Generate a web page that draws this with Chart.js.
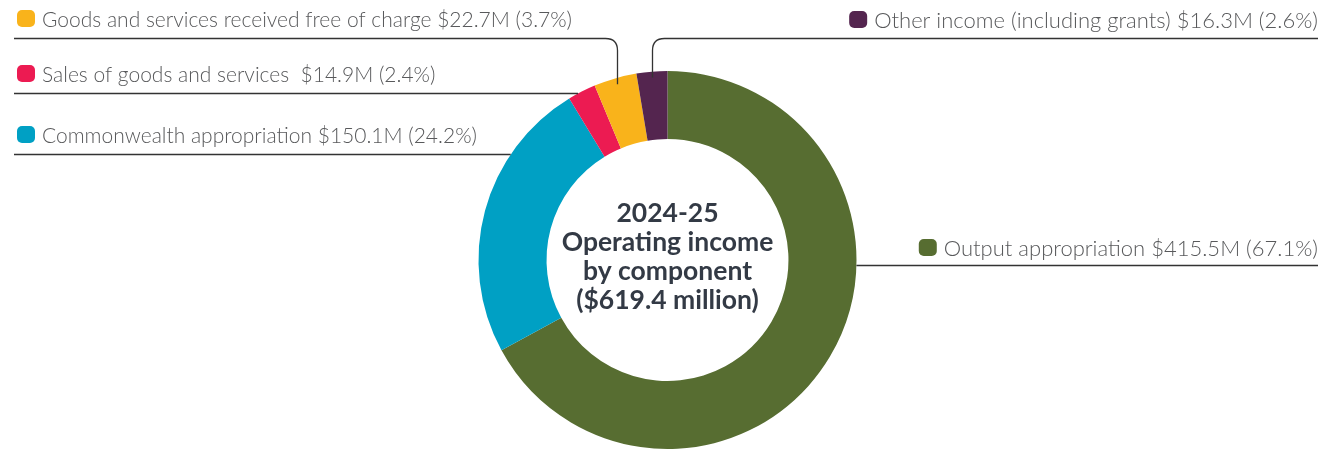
<!DOCTYPE html>
<html>
<head>
<meta charset="utf-8">
<script src="https://cdn.jsdelivr.net/npm/chart.js@4.4.1/dist/chart.umd.min.js"></script>
<style>
  html, body { margin: 0; padding: 0; background: #fff; }
  #wrap { width: 1322px; height: 450px; position: relative; }
</style>
</head>
<body>
<div id="wrap"><canvas id="c" width="1322" height="450"></canvas></div>
<script>
// Operating income by component, 2024-25 ($ million)
const categories = [
  'Output appropriation',
  'Commonwealth appropriation',
  'Sales of goods and services ',
  'Goods and services received free of charge',
  'Other income (including grants)'
];
const amounts = [415.5, 150.1, 14.9, 22.7, 16.3];
const shares = [67.1, 24.2, 2.4, 3.7, 2.6];
const colors = ['#576d31', '#00a0c4', '#ec1b52', '#f9b31b', '#54254f'];
const centerTitle = ['2024-25', 'Operating income', 'by component', '($619.4 million)'];

// Callout layout: side, text baseline y, leader row y, leader style, font size
const callouts = [
  { side: 'right', baseY: 256, lineY: 265, kind: 'edge', size: 22 },
  { side: 'left',  baseY: 143, lineY: 154, kind: 'edge', size: 21 },
  { side: 'left',  baseY: 82,  lineY: 93,  kind: 'edge', size: 21 },
  { side: 'left',  baseY: 27,  lineY: 38,  kind: 'drop', size: 21 },
  { side: 'right', baseY: 28,  lineY: 38,  kind: 'drop', size: 22 }
];

const LEFT_X = 14, RIGHT_X = 1318;

function roundRect(ctx, x, y, w, h, r) {
  ctx.beginPath();
  ctx.moveTo(x + r, y);
  ctx.arcTo(x + w, y, x + w, y + h, r);
  ctx.arcTo(x + w, y + h, x, y + h, r);
  ctx.arcTo(x, y + h, x, y, r);
  ctx.arcTo(x, y, x + w, y, r);
  ctx.closePath();
}

const calloutPlugin = {
  id: 'callouts',
  afterDatasetsDraw(chart) {
    const ctx = chart.ctx;
    const meta = chart.getDatasetMeta(0);
    ctx.save();
    meta.data.forEach((arc, i) => {
      const c = callouts[i];
      const cx = arc.x, cy = arc.y, R = arc.outerRadius;
      const label = categories[i] + ' $' + amounts[i].toFixed(1) + 'M (' + shares[i].toFixed(1) + '%)';
      ctx.font = '300 ' + c.size + 'px Lato, "Open Sans", sans-serif';
      const tw = ctx.measureText(label).width;
      let markerX, textX;
      if (c.side === 'left') {
        markerX = 17; textX = 42;
      } else {
        textX = RIGHT_X - tw; markerX = textX - 25;
      }
      // marker
      ctx.fillStyle = colors[i];
      roundRect(ctx, markerX, c.baseY - 17, 18, 17, 5);
      ctx.fill();
      // text
      ctx.fillStyle = '#58595b';
      ctx.textBaseline = 'alphabetic';
      ctx.textAlign = 'left';
      ctx.fillText(label, textX, c.baseY);

      // leader line
      ctx.strokeStyle = '#333333';
      ctx.lineWidth = 1.3;
      ctx.beginPath();
      const ly = c.lineY + 0.5;
      const dy = ly - cy;
      if (c.kind === 'edge') {
        const dx = Math.sqrt(Math.max(R * R - dy * dy, 0));
        if (c.side === 'left') {
          ctx.moveTo(LEFT_X, ly);
          ctx.lineTo(cx - dx, ly);
        } else {
          ctx.moveTo(cx + dx, ly);
          ctx.lineTo(RIGHT_X, ly);
        }
      } else {
        const mid = (arc.startAngle + arc.endAngle) / 2;
        const px = Math.round(cx + Math.cos(mid) * (R - 6)) + 0.5;
        const py = cy + Math.sin(mid) * (R - 6);
        const r = 12;
        if (c.side === 'left') {
          ctx.moveTo(LEFT_X, ly);
          ctx.lineTo(px - r, ly);
          ctx.quadraticCurveTo(px, ly, px, ly + r);
          ctx.lineTo(px, py);
        } else {
          ctx.moveTo(RIGHT_X, ly);
          ctx.lineTo(px + r, ly);
          ctx.quadraticCurveTo(px, ly, px, ly + r);
          ctx.lineTo(px, py);
        }
      }
      ctx.stroke();
    });

    // centre title
    const a0 = meta.data[0];
    ctx.fillStyle = '#333a45';
    ctx.font = 'bold 26.5px Lato, "Open Sans", sans-serif';
    ctx.textAlign = 'center';
    ctx.textBaseline = 'middle';
    const lh = 29;
    const startY = a0.y - lh * (centerTitle.length - 1) / 2 - 3.5;
    centerTitle.forEach((t, k) => ctx.fillText(t, a0.x, startY + k * lh));
    ctx.restore();
  }
};

new Chart(document.getElementById('c'), {
  type: 'doughnut',
  data: {
    labels: categories,
    datasets: [{
      data: amounts,
      backgroundColor: colors,
      borderWidth: 0
    }]
  },
  options: {
    responsive: false,
    animation: false,
    cutout: '64%',
    layout: { padding: { left: 478, right: 465, top: 71, bottom: 1 } },
    plugins: {
      legend: { display: false },
      tooltip: { enabled: false }
    }
  },
  plugins: [calloutPlugin]
});
</script>
</body>
</html>
